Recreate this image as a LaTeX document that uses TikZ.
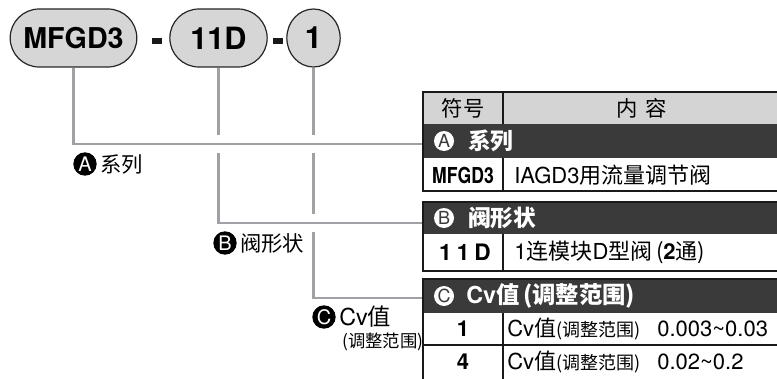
\documentclass[tikz,border=0pt]{standalone}
\usepackage{fontspec}
\setmainfont{TeX Gyre Heros}
\newfontfamily\cjk{Noto Sans CJK SC}
\usepackage{graphicx}
\usepackage{tikz}
\usetikzlibrary{shapes.misc,shapes.geometric,backgrounds}
\definecolor{pillgrey}{RGB}{214,214,214}
\definecolor{hdrgrey}{RGB}{212,212,212}
\definecolor{darkband}{RGB}{58,58,58}
\definecolor{linegrey}{RGB}{160,160,166}
\newcommand{\zh}[1]{{\cjk #1}}

\begin{document}
\begin{tikzpicture}[x=0.75pt,y=-0.75pt,
  pill/.style={rounded rectangle,draw=black!85,line width=0.9pt,fill=pillgrey,
    minimum height=43.5pt,inner sep=0pt,font=\bfseries\fontsize{23}{26}\selectfont},
  dashbar/.style={fill=black!90,minimum width=8pt,minimum height=3.8pt,inner sep=0pt},
  conn/.style={draw=linegrey,line width=1.65pt},
  bridge/.style={preaction={draw=white,line width=13.5pt}},
  band/.style={fill=darkband,anchor=north west,minimum width=270pt,inner sep=0pt},
  tabline/.style={line width=1.4pt,draw=black!90},
  cell/.style={line width=0.9pt,draw=black!90},
  dotlab/.style={circle,fill=black,text=white,minimum size=17.5pt,inner sep=0pt,
    font=\fontsize{15}{15}\selectfont},
  bandcirc/.style={circle,fill=white,text=darkband,minimum size=15pt,inner sep=0pt,
    font=\fontsize{13.5}{13.5}\selectfont},
  lab/.style={anchor=west,inner sep=0pt,font=\fontsize{16}{19}\selectfont},
  btxt/.style={anchor=west,inner sep=0pt,text=white,font=\bfseries\fontsize{17}{20}\selectfont},
  rtxt/.style={anchor=west,inner sep=0pt,font=\fontsize{16.5}{19}\selectfont},
  code/.style={inner sep=0pt,font=\bfseries\fontsize{16.5}{19}\selectfont}]
\useasboundingbox (0,0) rectangle (777,378);

% part number
\node[pill,minimum width=95pt,font=\bfseries\fontsize{21.5}{24}\selectfont] (mfgd) at (73.5,38) {MFGD3};
\node[dashbar] (dash1) at (157,41) {};
\node[pill,minimum width=73pt] (valve) at (218.5,38) {11D};
\node[dashbar] (dash2) at (278,41) {};
\node[pill,ellipse,minimum width=40pt] (cv) at (313.5,38) {1};

% table
\fill[hdrgrey] (423,92) rectangle (780,124);
\node[band,minimum height=25.5pt] (bandA) at (423,124) {};
\node[band,minimum height=24pt] (bandB) at (423,202) {};
\node[band,minimum height=25.5pt] (bandC) at (423,279) {};
\draw[tabline] (780,92) -- (423,92) -- (423,191) -- (780,191);
\draw[cell] (503,92) -- (503,124) (503,158) -- (503,191);
\draw[tabline] (780,202) -- (423,202) -- (423,271) -- (780,271);
\draw[cell] (503,234) -- (503,271);
\draw[tabline] (780,279) -- (423,279) -- (423,380);
\draw[cell] (503,313) -- (503,380) (423,345) -- (780,345);

\node[font=\cjk\fontsize{16}{19}\selectfont] (hsym) at (463,108) {符号};
\node[font=\cjk\fontsize{16}{19}\selectfont] (hcont) at (642,108) {内\hspace{0.35em}容};

\node[bandcirc] (cA) at (444,141) {A};
\node[btxt] (tA) at (468,141) {\zh{系列}};
\node[bandcirc] (cB) at (444,218) {B};
\node[btxt] (tB) at (468,218) {\zh{阀形状}};
\node[bandcirc] (cC) at (444,296) {C};
\node[btxt,font=\bfseries\fontsize{17.5}{20}\selectfont] (tC) at (466,296) {Cv\zh{值\,(调整范围)}};

\node[code] (rA) at (463,175) {\scalebox{0.8}[1]{MFGD3}};
\node[rtxt] (dA) at (514,175) {IAGD3\zh{用流量调节阀}};
\node[code,font=\bfseries\fontsize{17}{19}\selectfont\addfontfeature{LetterSpace=22}] (rB) at (465,252) {11D};
\node[rtxt] (dB) at (514,252) {1\zh{连模块}D\zh{型阀\,(}\textbf{2}\zh{通)}};
\node[code] (rC1) at (463,329) {1};
\node[rtxt] (dC1) at (507,329) {Cv\zh{值}{\fontsize{13.5}{15}\selectfont\zh{(调整范围)}}};
\node[rtxt,font=\fontsize{16.5}{19}\selectfont] (vC1) at (657,329) {0.003\textasciitilde0.03};
\node[code] (rC4) at (463,362) {4};
\node[rtxt] (dC4) at (507,362) {Cv\zh{值}{\fontsize{13.5}{15}\selectfont\zh{(调整范围)}}};
\node[rtxt,font=\fontsize{16.5}{19}\selectfont] (vC4) at (657,362) {0.02\textasciitilde0.2};

% labels
\node[dotlab] (markA) at (85,164) {A};
\node[lab] (labA) at (100,164) {\zh{系列}};
\node[dotlab] (markB) at (225,243) {B};
\node[lab] (labB) at (240,243) {\zh{阀形状}};
\node[dotlab] (markC) at (324,317) {C};
\node[lab,font=\fontsize{17.5}{20}\selectfont] (labC) at (339,317) {Cv\zh{值}};
\node[lab,font=\fontsize{13}{15}\selectfont] (subC) at (342,342) {\zh{(调整范围)}};

% connectors
\begin{scope}[on background layer]
\draw[conn] (cv.south) |- ([yshift=-1.5pt]bandC.west);
\draw[conn,bridge] (valve.south) |- ([yshift=-3.75pt]bandB.west);
\draw[conn,bridge] (mfgd.south) |- ([yshift=-2.25pt]bandA.west);
\end{scope}
\end{tikzpicture}
\end{document}
